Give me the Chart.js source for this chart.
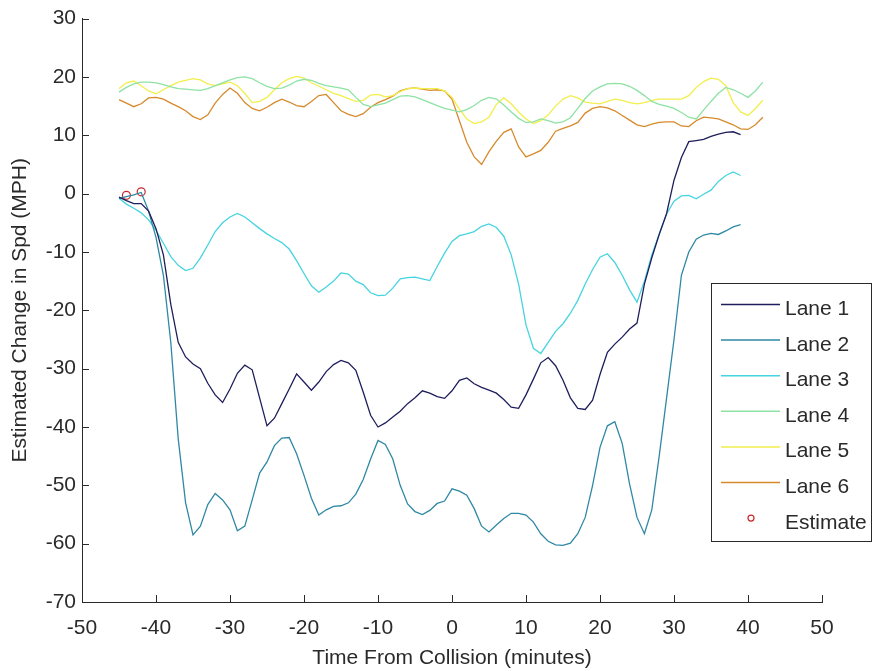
<!DOCTYPE html>
<html>
<head>
<meta charset="utf-8">
<title>Estimated Change in Speed by Lane</title>
<script src="https://cdn.jsdelivr.net/npm/chart.js@4.4.0/dist/chart.umd.min.js"></script>
<style>
  html, body { margin: 0; padding: 0; background: #fff; }
</style>
</head>
<body>
<canvas id="speedChart" width="872" height="671"></canvas>
<script>
// minutes from collision (lanes 1-3 stop at 39, lanes 4-6 at 42)
const minutesShort = [
  -45, -44, -43, -42, -41, -40, -39, -38, -37, -36,
  -35, -34, -33, -32, -31, -30, -29, -28, -27, -26,
  -25, -24, -23, -22, -21, -20, -19, -18, -17, -16,
  -15, -14, -13, -12, -11, -10, -9, -8, -7, -6,
  -5, -4, -3, -2, -1, 0, 1, 2, 3, 4,
  5, 6, 7, 8, 9, 10, 11, 12, 13, 14,
  15, 16, 17, 18, 19, 20, 21, 22, 23, 24,
  25, 26, 27, 28, 29, 30, 31, 32, 33, 34,
  35, 36, 37, 38, 39
];
const minutesLong = [
  -45, -44, -43, -42, -41, -40, -39, -38, -37, -36,
  -35, -34, -33, -32, -31, -30, -29, -28, -27, -26,
  -25, -24, -23, -22, -21, -20, -19, -18, -17, -16,
  -15, -14, -13, -12, -11, -10, -9, -8, -7, -6,
  -5, -4, -3, -2, -1, 0, 1, 2, 3, 4,
  5, 6, 7, 8, 9, 10, 11, 12, 13, 14,
  15, 16, 17, 18, 19, 20, 21, 22, 23, 24,
  25, 26, 27, 28, 29, 30, 31, 32, 33, 34,
  35, 36, 37, 38, 39, 40, 41, 42
];

// change in speed (MPH) per lane
const lane1 = [
  -0.6, -1.2, -1.7, -1.7, -3.0, -6.0, -10.5, -19, -25.5, -28,
  -29.2, -30, -32.5, -34.5, -35.8, -33.5, -30.8, -29.4, -30.2, -35,
  -39.8, -38.5, -36, -33.5, -30.9, -32.3, -33.7, -32.3, -30.5, -29.3,
  -28.6, -29, -30.3, -34, -38, -40, -39.3, -38.3, -37.3, -36,
  -35, -33.8, -34.2, -34.8, -35.1, -33.8, -32, -31.6, -32.6, -33.2,
  -33.7, -34.2, -35.3, -36.6, -36.8, -34.5, -31.8, -29, -28.1, -29.5,
  -32, -35, -36.8, -37, -35.4, -31, -27.2, -25.8, -24.6, -23.2,
  -22.2, -15.5, -11, -7, -3.4, 2.3, 6.2, 8.9, 9.1, 9.3,
  9.8, 10.2, 10.5, 10.6, 10.1
];
const lane2 = [
  -0.8, -0.5, -0.2, 0.2, -3, -7.5, -14, -25.5, -42, -53,
  -58.5, -57, -53.3, -51.4, -52.5, -54.2, -57.8, -57, -52.5, -47.9,
  -46, -43.2, -41.9, -41.8, -44.6, -48.3, -52.2, -55.1, -54.2, -53.6,
  -53.5, -53, -51.5, -49, -45.5, -42.3, -43, -45.5, -50, -53.2,
  -54.5, -55, -54.3, -53.1, -52.7, -50.6, -51, -51.7, -54, -57,
  -58, -56.8, -55.7, -54.8, -54.8, -55.1, -56.3, -58.3, -59.6, -60.2,
  -60.3, -59.9, -58.3, -55.5, -50, -43.5, -39.8, -39.1, -42.8, -49.8,
  -55.5, -58.3, -54.2, -45, -35, -25, -14, -10, -7.8, -7.1,
  -6.8, -7, -6.4, -5.7, -5.3
];
const lane3 = [
  -0.8, -1.8, -2.5, -3.3, -4.5, -6.3, -8.5, -10.8, -12.3, -13.2,
  -12.8, -11, -8.8, -6.5, -5, -4, -3.4, -4, -5, -6,
  -6.9, -7.7, -8.4, -9.5, -11.5, -13.7, -15.8, -16.9, -16, -15,
  -13.6, -13.8, -15, -15.6, -17, -17.5, -17.4, -16.2, -14.6, -14.4,
  -14.3, -14.6, -14.9, -12.5, -10.2, -8.2, -7.2, -6.9, -6.5, -5.6,
  -5.2, -5.8, -7.3, -10.5, -15.5, -22.5, -26.5, -27.4, -25.5, -23.6,
  -22.3, -20.5, -18.3, -15.5, -13, -10.9, -10.3, -11.8, -14, -16.5,
  -18.6, -15, -10.5, -6.9, -3.5, -1.3, -0.4, -0.3, -0.9, -0.1,
  0.6, 2.1, 3.1, 3.7, 3.1
];
const lane4 = [
  17.4, 18.2, 18.8, 19.1, 19.1, 19.0, 18.7, 18.3, 18.0, 17.9,
  17.8, 17.7, 18.0, 18.5, 19.0, 19.5, 19.9, 20.0, 19.7, 19.0,
  18.4, 18.0, 18.1, 18.6, 19.3, 19.6, 19.4, 18.9, 18.5, 18.3,
  18.1, 17.8, 16.5, 15.3, 14.9, 15.2, 15.5, 16.1, 16.7, 16.8,
  16.6, 16.1, 15.6, 15.1, 14.6, 14.3, 14.0, 14.4, 15.1, 16.0,
  16.5, 16.2, 15.2, 14.0, 12.9, 12.2, 12.3, 12.8, 12.5, 12.1,
  12.3, 13.0, 14.6, 16.3, 17.6, 18.3, 18.8, 18.9, 18.8, 18.4,
  17.7, 16.8, 15.8, 15.3, 15.0, 14.6, 13.9, 13.1, 12.8, 14.3,
  15.8, 17.2, 18.2, 17.8, 17.2, 16.5, 17.6, 19.1
];
const lane5 = [
  18, 19, 19.3, 18.5, 17.6, 17.1, 17.8, 18.5, 19.1, 19.4,
  19.7, 19.5, 18.8, 18.5, 18.8, 19.1, 18.5, 17.2, 15.6, 15.8,
  16.5, 17.8, 19.0, 19.7, 20.1, 19.8, 19.0, 18.4, 17.8, 17.2,
  16.8, 16.3, 15.8, 16.0, 16.9, 17.0, 16.6, 16.8, 17.5, 18.0,
  18.1, 18.0, 18.0, 18.0, 17.6, 16.5, 14.5, 12.8, 12.0, 12.3,
  13.1, 15.3, 16.4, 15.4, 14.0, 12.8, 12.0, 12.5, 13.5, 15.0,
  16.2, 16.8, 16.4, 15.7, 15.5, 15.4, 15.8, 16.2, 16.0, 15.6,
  15.4, 15.6, 16.0, 16.2, 16.2, 16.2, 16.2, 16.8, 18.2, 19.2,
  19.8, 19.6, 18.5, 15.6, 14.0, 13.4, 14.6, 16.0
];
const lane6 = [
  16.1, 15.5, 14.9, 15.4, 16.4, 16.5, 16.2, 15.5, 14.9, 14.2,
  13.2, 12.7, 13.5, 15.5, 17.0, 18.1, 17.2, 15.6, 14.6, 14.2,
  14.8, 15.6, 16.2, 15.7, 15.1, 14.9, 15.8, 16.8, 17.0, 15.6,
  14.2, 13.6, 13.2, 13.7, 14.8, 15.6, 16.1, 16.7, 17.6, 18.0,
  18.1, 17.9, 17.7, 17.8, 17.6, 16.2, 12.5, 8.8, 6.3, 5.0,
  7.2, 9.0, 10.5, 11.1, 8.0, 6.3, 6.8, 7.4, 8.8, 10.7,
  11.2, 11.6, 12.2, 13.8, 14.6, 14.9, 14.7, 14.2, 13.4, 12.6,
  11.8, 11.5, 11.9, 12.2, 12.3, 12.3, 11.6, 11.5, 12.5, 13.1,
  13.0, 12.8, 12.3, 11.8, 11.1, 11.0, 11.8, 13.1
];

// estimated collision points
const estimateMinutes = [-44, -42];
const estimateSpeed = [-0.3, 0.3];

const laneNames = ['Lane 1', 'Lane 2', 'Lane 3', 'Lane 4', 'Lane 5', 'Lane 6'];
const laneColors = ['#1e1e5c', '#2f88a4', '#46d4e0', '#8ee2a4', '#f2ee4c', '#d68a2c'];

const FONT = '"Liberation Sans", Arial, sans-serif';
const INK = '#2a2a2a';

function toPoints(xs, ys) {
  return xs.map((x, i) => ({ x: x, y: ys[i] }));
}

const laneSeries = [lane1, lane2, lane3, lane4, lane5, lane6];
const datasets = laneSeries.map((ys, i) => ({
  label: laneNames[i],
  data: toPoints(i < 3 ? minutesShort : minutesLong, ys),
  borderColor: laneColors[i],
  backgroundColor: laneColors[i],
  borderWidth: 1.3,
  pointRadius: 0,
  tension: 0,
  fill: false
}));
datasets.push({
  label: 'Estimate',
  data: toPoints(estimateMinutes, estimateSpeed),
  showLine: false,
  pointStyle: 'circle',
  pointRadius: 4,
  borderColor: '#c8282c',
  backgroundColor: 'rgba(0,0,0,0)',
  pointBorderWidth: 1.2
});

// matlab style ticks pointing into the plot
const inwardTicks = {
  id: 'inwardTicks',
  afterDraw(chart) {
    const ctx = chart.ctx;
    const xs = chart.scales.x, ys = chart.scales.y;
    const area = chart.chartArea;
    ctx.save();
    ctx.strokeStyle = INK;
    ctx.lineWidth = 1;
    ctx.beginPath();
    xs.ticks.forEach(t => {
      const px = Math.round(xs.getPixelForValue(t.value)) + 0.5;
      ctx.moveTo(px, area.bottom);
      ctx.lineTo(px, area.bottom - 7);
    });
    ys.ticks.forEach(t => {
      const py = Math.round(ys.getPixelForValue(t.value)) + 0.5;
      ctx.moveTo(area.left, py);
      ctx.lineTo(area.left + 7, py);
    });
    ctx.stroke();
    ctx.restore();
  }
};

// boxed legend inside the plot, right side
const boxLegend = {
  id: 'boxLegend',
  afterDraw(chart) {
    const ctx = chart.ctx;
    const left = 711.5, top = 283.5, w = 160, h = 258;
    ctx.save();
    ctx.fillStyle = '#fff';
    ctx.fillRect(left, top, w, h);
    ctx.strokeStyle = INK;
    ctx.lineWidth = 1;
    ctx.strokeRect(left, top, w, h);
    ctx.font = '21px ' + FONT;
    ctx.textBaseline = 'alphabetic';
    ctx.textAlign = 'left';
    chart.data.datasets.forEach((ds, i) => {
      const y = 304.5 + i * 35.6;
      if (ds.showLine === false) {
        ctx.beginPath();
        ctx.strokeStyle = ds.borderColor;
        ctx.lineWidth = 1.2;
        ctx.arc(751, y, 3, 0, Math.PI * 2);
        ctx.stroke();
      } else {
        ctx.beginPath();
        ctx.strokeStyle = ds.borderColor;
        ctx.lineWidth = 1.5;
        ctx.moveTo(721, y);
        ctx.lineTo(780, y);
        ctx.stroke();
      }
      ctx.fillStyle = INK;
      ctx.fillText(ds.label, 785, y + 10.5);
    });
    ctx.restore();
  }
};

new Chart(document.getElementById('speedChart'), {
  type: 'line',
  data: { datasets: datasets },
  options: {
    responsive: false,
    animation: false,
    devicePixelRatio: 1,
    layout: { padding: { top: 18, right: 50, left: 0, bottom: 0 } },
    plugins: {
      legend: { display: false },
      tooltip: { enabled: false }
    },
    scales: {
      x: {
        type: 'linear',
        min: -50,
        max: 50,
        afterFit(scale) { scale.height = 69; },
        grid: { display: false, drawTicks: false },
        border: { display: true, color: INK, width: 1 },
        ticks: {
          stepSize: 10,
          padding: 14,
          color: INK,
          maxRotation: 0,
          font: { family: FONT, size: 21 }
        },
        title: {
          display: true,
          text: 'Time From Collision (minutes)',
          color: INK,
          font: { family: FONT, size: 21 },
          padding: { top: 0, bottom: 0 }
        }
      },
      y: {
        type: 'linear',
        min: -70,
        max: 30,
        afterFit(scale) { scale.width = 82; },
        grid: { display: false, drawTicks: false },
        border: { display: true, color: INK, width: 1 },
        ticks: {
          stepSize: 10,
          padding: 6,
          color: INK,
          font: { family: FONT, size: 21 }
        },
        title: {
          display: true,
          text: 'Estimated Change in Spd (MPH)',
          color: INK,
          font: { family: FONT, size: 21 },
          padding: { top: 8, bottom: 0 }
        }
      }
    }
  },
  plugins: [inwardTicks, boxLegend]
});
</script>
</body>
</html>
